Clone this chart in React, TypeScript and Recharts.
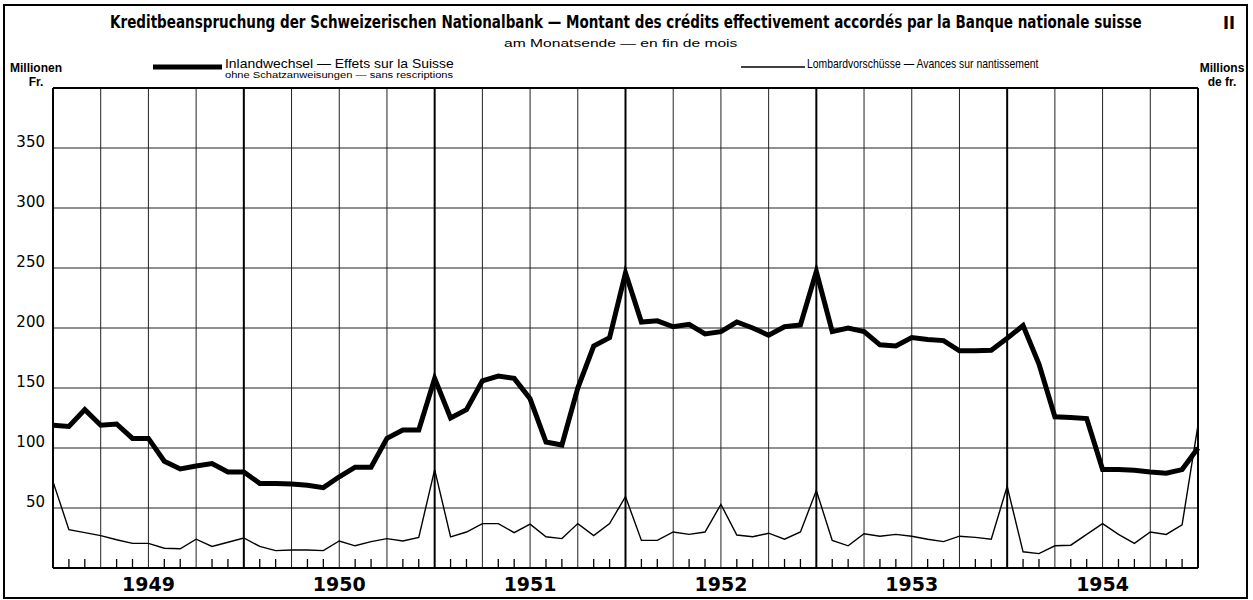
import React, { useLayoutEffect, useRef, useState } from 'react';
import { LineChart, Line, XAxis, YAxis, CartesianGrid, ReferenceLine } from 'recharts';

// month-end values, index 0 = end of Dec 1948, index 72 = end of Dec 1954
const inlandwechsel = [
    119, 118, 132, 119, 120, 108, 108, 89, 82.5, 85, 87, 80, 80,
    70.5, 70.5, 70, 69, 67, 76, 84, 84, 108, 115, 115, 158,
    125, 132, 156, 160, 158, 141, 105, 102.5, 150, 185, 192, 246,
    205, 206, 201, 203, 195, 197, 205, 200, 194, 201, 202.5, 247,
    197, 200, 197, 186, 185, 192, 190.5, 189.5, 181, 181, 181.5, 191.5,
    202, 170, 126, 125.5, 124.5, 82, 82, 81.5, 80, 79, 82, 100,
];

const lombard = [
    72, 32, 29.5, 27, 23.5, 20.5, 20.5, 16.5, 16, 24, 18, 21.5, 25,
    18, 14.5, 15, 15, 14.5, 22.5, 18.5, 22, 24.5, 22.5, 25.5, 82,
    26, 30, 37, 37, 29.5, 36.5, 26, 24.5, 37, 27, 37, 59.5,
    23, 23, 30, 28, 30, 53, 27.5, 26, 29, 24, 30, 64.5,
    23, 18.5, 28.5, 26.5, 28, 26.5, 24, 22, 26.5, 25.5, 24, 68,
    13.5, 12, 18.5, 19, 28, 37, 28, 20.5, 30, 28, 36, 119,
];

const years = ['1949', '1950', '1951', '1952', '1953', '1954'];
const valueTicks = [50, 100, 150, 200, 250, 300, 350];

const data = inlandwechsel.map((v, i) => ({ idx: i, inland: v, lombard: lombard[i] }));

const yearTicks = years.map((_, k) => k * 12 + 6);
const yearEnds = [12, 24, 36, 48, 60];
const quarterLines = data.map(d => d.idx).filter(i => i % 3 === 0 && i % 12 !== 0);
const monthTicks = data.map(d => d.idx).filter(i => i % 3 !== 0);

const numFont = '"DejaVu Sans", sans-serif';
const condensed = '"DejaVu Sans Condensed", "Liberation Sans Narrow", sans-serif';
const sans = '"Liberation Sans", Arial, sans-serif';

// text squeezed/stretched horizontally to a given width (start at x)
function FitText({ x, y, width, size, weight, family, children }: any) {
    const ref = useRef<SVGTextElement>(null);
    const [s, setS] = useState(1);
    useLayoutEffect(() => {
        if (ref.current) {
            const w = ref.current.getBBox().width;
            if (w > 0) setS(width / w);
        }
    }, [width]);
    return (
        <g transform={`translate(${x},${y}) scale(${s},1)`}>
            <text ref={ref} x={0} y={0} dominantBaseline="central" fontFamily={family}
                fontWeight={weight || 'normal'} fontSize={size} fill="#000">{children}</text>
        </g>
    );
}

const LeftTick = (p: any) => (
    <text x={p.x} y={p.y - 6} textAnchor="end" dominantBaseline="central"
        fontFamily={numFont} fontSize={15} fill="#000">{p.payload.value}</text>
);

const RightTick = (p: any) => (
    <text x={p.x} y={p.y - 6} textAnchor="start" dominantBaseline="central"
        fontFamily={numFont} fontSize={15} fill="#000">{p.payload.value}</text>
);

export default function App() {
    return (
        <div style={{ position: 'absolute', left: 0, top: 0, width: 1253, height: 600, background: '#fff' }}>
            <LineChart width={1253} height={600} data={data}
                margin={{ top: 88, right: 10, bottom: 2, left: 8 }}>
                <CartesianGrid vertical={false} stroke="#222" strokeWidth={1} />
                <XAxis dataKey="idx" type="number" domain={[0, 72]} ticks={yearTicks} interval={0}
                    tickFormatter={(v) => years[(v - 6) / 12]} height={30}
                    axisLine={{ stroke: '#000', strokeWidth: 2 }} tickLine={false} tickSize={0} tickMargin={10}
                    tick={{ fontFamily: numFont, fontWeight: 'bold', fontSize: 19, fill: '#000' }} />
                <YAxis domain={[0, 400]} ticks={valueTicks} width={45} axisLine={false}
                    tickLine={false} tickSize={0} tickMargin={8} tick={LeftTick} />
                <YAxis yAxisId="r" orientation="right" domain={[0, 400]} ticks={valueTicks} width={45}
                    axisLine={false} tickLine={false} tickSize={0} tickMargin={9} tick={RightTick} />

                {quarterLines.map(q => (
                    <ReferenceLine key={`q${q}`} x={q} stroke="#222" strokeWidth={1} />
                ))}
                {yearEnds.map(q => (
                    <ReferenceLine key={`y${q}`} x={q} stroke="#000" strokeWidth={2} />
                ))}
                {monthTicks.map(m => (
                    <ReferenceLine key={`m${m}`} segment={[{ x: m, y: 0 }, { x: m, y: 7.5 }]} stroke="#000" strokeWidth={1.3} />
                ))}
                <ReferenceLine y={400} stroke="#000" strokeWidth={2} />
                <ReferenceLine x={0} stroke="#000" strokeWidth={2} />
                <ReferenceLine x={72} stroke="#000" strokeWidth={2} />

                <Line type="linear" dataKey="lombard" stroke="#000" strokeWidth={1.4} dot={false} isAnimationActive={false} />
                <Line type="linear" dataKey="inland" stroke="#000" strokeWidth={5} dot={false} isAnimationActive={false} />
            </LineChart>

            <svg width={1253} height={600} style={{ position: 'absolute', left: 0, top: 0, pointerEvents: 'none' }}>
                <rect x={4} y={5} width={1243} height={593} fill="none" stroke="#000" strokeWidth={2} />
                <FitText x={110} y={22} width={1032} size={18} weight="bold" family={condensed}>
                    Kreditbeanspruchung der Schweizerischen Nationalbank — Montant des crédits effectivement accordés par la Banque nationale suisse
                </FitText>
                <text x={1229} y={22} textAnchor="middle" dominantBaseline="central" fontFamily={condensed}
                    fontWeight="bold" fontSize={18}>II</text>
                <FitText x={504} y={43} width={234} size={11.5} family={sans}>am Monatsende — en fin de mois</FitText>

                <line x1={153} x2={222} y1={67} y2={67} stroke="#000" strokeWidth={5} />
                <FitText x={225} y={64} width={229} size={12.5} family={sans}>Inlandwechsel — Effets sur la Suisse</FitText>
                <FitText x={225} y={75} width={229} size={9} family={sans}>ohne Schatzanweisungen — sans rescriptions</FitText>

                <line x1={741} x2={805} y1={67} y2={67} stroke="#000" strokeWidth={1.4} />
                <FitText x={807} y={64} width={232} size={12.5} family={sans}>Lombardvorschüsse — Avances sur nantissement</FitText>

                <text x={36} y={68} textAnchor="middle" dominantBaseline="central" fontFamily={sans} fontSize={12} fontWeight="bold">Millionen</text>
                <text x={36} y={82} textAnchor="middle" dominantBaseline="central" fontFamily={sans} fontSize={12} fontWeight="bold">Fr.</text>
                <text x={1222} y={68} textAnchor="middle" dominantBaseline="central" fontFamily={sans} fontSize={12} fontWeight="bold">Millions</text>
                <text x={1222} y={82} textAnchor="middle" dominantBaseline="central" fontFamily={sans} fontSize={12} fontWeight="bold">de fr.</text>
            </svg>
        </div>
    );
}
